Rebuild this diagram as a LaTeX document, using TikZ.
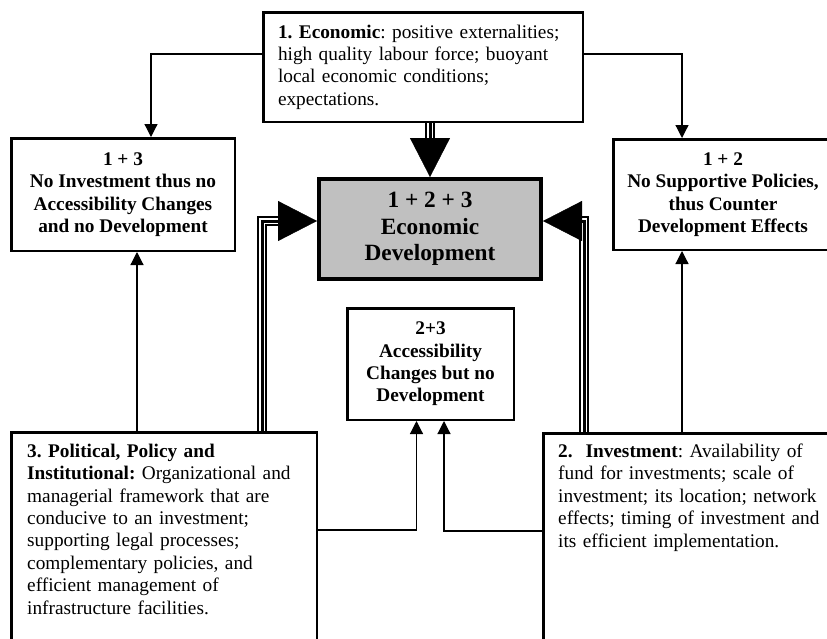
\documentclass[tikz,border=0pt]{standalone}
\usepackage{fontspec}
\setmainfont{Liberation Serif}
\usetikzlibrary{arrows.meta,calc}
\definecolor{boxgray}{RGB}{192,192,192}
\tikzset{
  box/.style={draw=black, line width=2.5pt, fill=white, inner sep=0pt},
  txt/.style={font=\fontsize{19.3pt}{22.4pt}\selectfont\frenchspacing},
  btxt/.style={font=\fontsize{19.3pt}{22.4pt}\selectfont\bfseries\frenchspacing, align=center},
  conn/.style={line width=1.2pt, -{Triangle[length=13pt,width=13pt]}},
  triple/.style={line width=10.5pt, shorten >=38pt,
     postaction={draw=white, line width=6pt},
     postaction={draw=black, line width=3pt}},
  bigtip/.style={line width=0.4pt, -{Triangle[length=39pt,width=40pt]}}
}
\begin{document}
\begin{tikzpicture}[x=1pt,y=1pt]
\useasboundingbox (0,0) rectangle (827,-638);
\clip (0,0) rectangle (827,-638);
% boxes
\node[box, txt, minimum width=319.5pt, minimum height=109.5pt, text width=290pt, inner xsep=14.75pt, align=left] (top) at (423,-67)
  {\textbf{1. Economic}: positive externalities;\\high quality labour force; buoyant\\local economic conditions;\\expectations.};
\node[box, btxt, minimum width=223.5pt, minimum height=112.5pt] (l13) at (123,-194.5)
  {1 + 3\\No Investment thus no\\Accessibility Changes\\and no Development};
\node[box, btxt, minimum width=219.5pt, minimum height=110.5pt] (r12) at (723,-194.5)
  {1 + 2\\No Supportive Policies,\\thus Counter\\Development Effects};
\node[draw=black, line width=4pt, fill=boxgray, inner sep=0pt, minimum width=222pt, minimum height=100pt,
  font=\fontsize{23.3pt}{26.5pt}\selectfont\bfseries, align=center] (cen) at (430,-229)
  {1 + 2 + 3\\Economic\\Development};
\node[box, btxt, minimum width=166.5pt, minimum height=111.5pt] (mid) at (430.5,-364)
  {2+3\\Accessibility\\Changes but no\\Development};
\node[box, anchor=north west, minimum width=305.5pt, minimum height=240pt] (bl) at (10,-431) {};
\node[box, anchor=north west, minimum width=307.5pt, minimum height=240pt] (br) at (542,-432) {};
\node[txt, anchor=north west, inner sep=0pt, text width=285pt, align=left] (bltext) at (27,-443.7)
  {\textbf{3. Political, Policy and}\\\textbf{Institutional:} Organizational and\\managerial framework that are\\conducive to an investment;\\supporting legal processes;\\complementary policies, and\\efficient management of\\infrastructure facilities.};
\node[txt, anchor=north west, inner sep=0pt, text width=265pt, align=left] (brtext) at (558,-443.7)
  {\textbf{2.\ \ Investment}: Availability of\\fund for investments; scale of\\investment; its location; network\\effects; timing of investment and\\its efficient implementation.};
% thin connectors
\draw[conn] ([yshift=13pt]top.west) -| ([xshift=28pt]l13.north);
\draw[conn] ([yshift=13pt]top.east) -| ([xshift=-41pt]r12.north);
\draw[conn] ([xshift=-27pt]bl.north) -- ([xshift=14pt]l13.south);
\draw[conn] ([xshift=-15pt]br.north) -- ([xshift=-41pt]r12.south);
\draw[conn] ([yshift=22.25pt]bl.east) -| ([xshift=-14pt]mid.south);
\draw[conn] ([yshift=22.25pt]br.west) -| ([xshift=13.5pt]mid.south);
% triple connectors
\draw[triple] (top.south -| cen.north) -- (cen.north);
\draw[triple] ([xshift=98pt]bl.north) |- ([yshift=8pt]cen.west);
\draw[triple] ([xshift=-113pt]br.north) |- ([yshift=8pt]cen.east);
\draw[bigtip] ([yshift=39pt]cen.north) -- (cen.north);
\draw[bigtip] ([xshift=-39pt,yshift=8pt]cen.west) -- ([yshift=8pt]cen.west);
\draw[bigtip] ([xshift=39pt,yshift=8pt]cen.east) -- ([yshift=8pt]cen.east);
\end{tikzpicture}
\end{document}
